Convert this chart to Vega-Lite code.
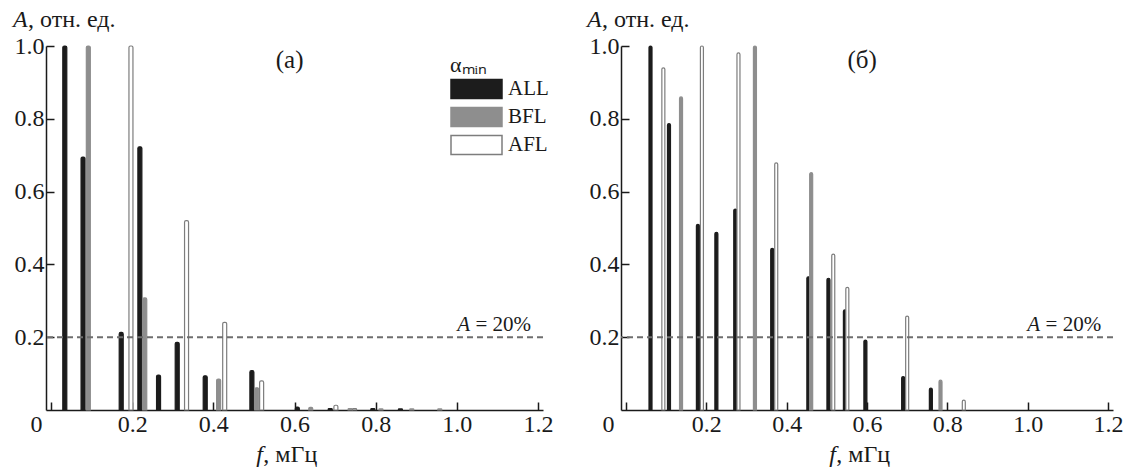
{
  "$schema": "https://vega.github.io/schema/vega-lite/v6.json",
  "background": "white",
  "padding": {"left": 12, "top": 8, "right": 0, "bottom": 0},
  "config": {
    "font": "Liberation Serif",
    "view": {"stroke": null},
    "axis": {
      "grid": false,
      "title": null,
      "domainColor": "#1a1a1a",
      "domainWidth": 1.5,
      "tickColor": "#1a1a1a",
      "tickWidth": 1.5,
      "tickSize": -8,
      "labelFont": "Liberation Serif",
      "labelFontSize": 24,
      "labelColor": "#1a1a1a"
    },
    "text": {"font": "Liberation Serif", "color": "#1a1a1a"}
  },
  "datasets": {
    "spectra": [
      {"panel": "a", "series": "ALL", "f": 0.034, "A": 1.0},
      {"panel": "a", "series": "ALL", "f": 0.079, "A": 0.695},
      {"panel": "a", "series": "ALL", "f": 0.173, "A": 0.213},
      {"panel": "a", "series": "ALL", "f": 0.219, "A": 0.723},
      {"panel": "a", "series": "ALL", "f": 0.265, "A": 0.096},
      {"panel": "a", "series": "ALL", "f": 0.311, "A": 0.186},
      {"panel": "a", "series": "ALL", "f": 0.380, "A": 0.094},
      {"panel": "a", "series": "ALL", "f": 0.495, "A": 0.108},
      {"panel": "a", "series": "ALL", "f": 0.607, "A": 0.008},
      {"panel": "a", "series": "ALL", "f": 0.688, "A": 0.004},
      {"panel": "a", "series": "ALL", "f": 0.793, "A": 0.004},
      {"panel": "a", "series": "ALL", "f": 0.861, "A": 0.003},
      {"panel": "a", "series": "BFL", "f": 0.092, "A": 1.0},
      {"panel": "a", "series": "BFL", "f": 0.231, "A": 0.308},
      {"panel": "a", "series": "BFL", "f": 0.413, "A": 0.085},
      {"panel": "a", "series": "BFL", "f": 0.507, "A": 0.061},
      {"panel": "a", "series": "BFL", "f": 0.640, "A": 0.007},
      {"panel": "a", "series": "BFL", "f": 0.737, "A": 0.004},
      {"panel": "a", "series": "BFL", "f": 0.813, "A": 0.003},
      {"panel": "a", "series": "BFL", "f": 0.889, "A": 0.003},
      {"panel": "a", "series": "BFL", "f": 0.958, "A": 0.003},
      {"panel": "a", "series": "AFL", "f": 0.197, "A": 1.0},
      {"panel": "a", "series": "AFL", "f": 0.334, "A": 0.52},
      {"panel": "a", "series": "AFL", "f": 0.428, "A": 0.241},
      {"panel": "a", "series": "AFL", "f": 0.519, "A": 0.08},
      {"panel": "a", "series": "AFL", "f": 0.702, "A": 0.013},
      {"panel": "a", "series": "AFL", "f": 0.748, "A": 0.004},
      {"panel": "b", "series": "ALL", "f": 0.061, "A": 1.0},
      {"panel": "b", "series": "ALL", "f": 0.107, "A": 0.787},
      {"panel": "b", "series": "ALL", "f": 0.179, "A": 0.51},
      {"panel": "b", "series": "ALL", "f": 0.225, "A": 0.488},
      {"panel": "b", "series": "ALL", "f": 0.272, "A": 0.552},
      {"panel": "b", "series": "ALL", "f": 0.364, "A": 0.444},
      {"panel": "b", "series": "ALL", "f": 0.454, "A": 0.366},
      {"panel": "b", "series": "ALL", "f": 0.504, "A": 0.362},
      {"panel": "b", "series": "ALL", "f": 0.545, "A": 0.275},
      {"panel": "b", "series": "ALL", "f": 0.596, "A": 0.192},
      {"panel": "b", "series": "ALL", "f": 0.690, "A": 0.092},
      {"panel": "b", "series": "ALL", "f": 0.759, "A": 0.06},
      {"panel": "b", "series": "BFL", "f": 0.137, "A": 0.86},
      {"panel": "b", "series": "BFL", "f": 0.321, "A": 1.0},
      {"panel": "b", "series": "BFL", "f": 0.461, "A": 0.652},
      {"panel": "b", "series": "BFL", "f": 0.783, "A": 0.082},
      {"panel": "b", "series": "AFL", "f": 0.093, "A": 0.94},
      {"panel": "b", "series": "AFL", "f": 0.189, "A": 1.0},
      {"panel": "b", "series": "AFL", "f": 0.280, "A": 0.981},
      {"panel": "b", "series": "AFL", "f": 0.374, "A": 0.679},
      {"panel": "b", "series": "AFL", "f": 0.516, "A": 0.428},
      {"panel": "b", "series": "AFL", "f": 0.551, "A": 0.337},
      {"panel": "b", "series": "AFL", "f": 0.700, "A": 0.258},
      {"panel": "b", "series": "AFL", "f": 0.841, "A": 0.027}
    ]
  },
  "spacing": 32,
  "resolve": {
    "scale": {"fill": "independent", "stroke": "independent"},
    "legend": {"fill": "independent", "stroke": "independent"}
  },
  "hconcat": [
    {
      "width": 497,
      "height": 364,
      "layer": [
        {
          "data": {"name": "spectra"},
          "transform": [{"filter": "datum.panel === 'a'"}],
          "mark": {"type": "bar", "size": 4, "strokeWidth": 1.2, "cornerRadiusTopLeft": 1.5, "cornerRadiusTopRight": 1.5},
          "encoding": {
            "x": {
              "field": "f", "type": "quantitative",
              "scale": {"domain": [0, 1.2], "nice": false},
              "axis": {
                "values": [0, 0.2, 0.4, 0.6, 0.8, 1.0, 1.2],
                "labelExpr": "datum.value === 0 ? '0' : format(datum.value, '.1f')",
                "labelAlign": {"condition": {"test": "datum.value === 0", "value": "right"}, "value": "center"},
                "labelOffset": {"condition": {"test": "datum.value === 0", "value": -9}, "value": 0},
                "labelPadding": 10
              }
            },
            "y": {
              "field": "A", "type": "quantitative", "stack": null,
              "scale": {"domain": [0, 1], "nice": false},
              "axis": {"values": [0.2, 0.4, 0.6, 0.8, 1.0], "format": ".1f", "labelPadding": 10}
            },
            "fill": {
              "field": "series", "type": "nominal",
              "scale": {"domain": ["ALL", "BFL", "AFL"], "range": ["#1c1c1c", "#8e8e8e", "#ffffff"]},
              "legend": {
                "orient": "none",
                "legendX": 404,
                "legendY": 9,
                "title": "αₘᵢₙ",
                "titleFont": "Liberation Serif",
                "titleFontSize": 22,
                "titleFontWeight": "normal",
                "titleColor": "#1a1a1a",
                "titlePadding": 1,
                "symbolType": "M-1,-0.95H4.1V0.95H-1Z",
                "symbolSize": 400,
                "symbolStrokeWidth": 1.5,
                "labelFont": "Liberation Serif",
                "labelFontSize": 21,
                "labelColor": "#1a1a1a",
                "labelOffset": 36,
                "rowPadding": 2
              }
            },
            "stroke": {
              "field": "series", "type": "nominal",
              "scale": {"domain": ["ALL", "BFL", "AFL"], "range": ["#1c1c1c", "#8e8e8e", "#7d7d7d"]}
            }
          }
        },
        {
          "data": {"values": [{}]},
          "mark": {"type": "rule", "strokeDash": [6, 4], "strokeWidth": 2, "color": "#6e6e6e"},
          "encoding": {"y": {"datum": 0.2}}
        },
        {
          "data": {"values": [{}]},
          "mark": {"type": "text", "align": "right", "baseline": "alphabetic", "fontSize": 21},
          "encoding": {"x": {"datum": 1.183}, "y": {"datum": 0.218}, "text": {"value": "= 20%"}}
        },
        {
          "data": {"values": [{}]},
          "mark": {"type": "text", "align": "right", "baseline": "alphabetic", "fontSize": 21, "fontStyle": "italic", "dx": -61},
          "encoding": {"x": {"datum": 1.183}, "y": {"datum": 0.218}, "text": {"value": "A"}}
        },
        {
          "data": {"values": [{}]},
          "mark": {"type": "text", "align": "center", "baseline": "middle", "fontSize": 25},
          "encoding": {"x": {"datum": 0.588}, "y": {"datum": 0.961}, "text": {"value": "(a)"}}
        },
        {
          "data": {"values": [{}]},
          "mark": {"type": "text", "align": "left", "baseline": "alphabetic", "fontSize": 24, "fontStyle": "italic", "dx": -38, "dy": -19},
          "encoding": {"x": {"datum": 0}, "y": {"datum": 1}, "text": {"value": "A"}}
        },
        {
          "data": {"values": [{}]},
          "mark": {"type": "text", "align": "left", "baseline": "alphabetic", "fontSize": 24, "dx": -23, "dy": -19},
          "encoding": {"x": {"datum": 0}, "y": {"datum": 1}, "text": {"value": ", отн. ед."}}
        },
        {
          "data": {"values": [{}]},
          "mark": {"type": "text", "align": "left", "baseline": "alphabetic", "fontSize": 24, "fontStyle": "italic", "dy": 52},
          "encoding": {"x": {"datum": 0.506}, "y": {"datum": 0}, "text": {"value": "f"}}
        },
        {
          "data": {"values": [{}]},
          "mark": {"type": "text", "align": "left", "baseline": "alphabetic", "fontSize": 24, "dx": 7, "dy": 52},
          "encoding": {"x": {"datum": 0.506}, "y": {"datum": 0}, "text": {"value": ", мГц"}}
        }
      ]
    },
    {
      "width": 492,
      "height": 364,
      "layer": [
        {
          "data": {"name": "spectra"},
          "transform": [{"filter": "datum.panel === 'b'"}],
          "mark": {"type": "bar", "size": 3, "strokeWidth": 1.2, "cornerRadiusTopLeft": 1.5, "cornerRadiusTopRight": 1.5},
          "encoding": {
            "x": {
              "field": "f", "type": "quantitative",
              "scale": {"domain": [0, 1.2], "nice": false},
              "axis": {
                "values": [0, 0.2, 0.4, 0.6, 0.8, 1.0, 1.2],
                "labelExpr": "datum.value === 0 ? '0' : format(datum.value, '.1f')",
                "labelAlign": {"condition": {"test": "datum.value === 0", "value": "right"}, "value": "center"},
                "labelOffset": {"condition": {"test": "datum.value === 0", "value": -12}, "value": 0},
                "labelPadding": 10
              }
            },
            "y": {
              "field": "A", "type": "quantitative", "stack": null,
              "scale": {"domain": [0, 1], "nice": false},
              "axis": {"values": [0.2, 0.4, 0.6, 0.8, 1.0], "format": ".1f", "labelPadding": 10}
            },
            "fill": {
              "field": "series", "type": "nominal",
              "scale": {"domain": ["ALL", "BFL", "AFL"], "range": ["#1c1c1c", "#8e8e8e", "#ffffff"]},
              "legend": null
            },
            "stroke": {
              "field": "series", "type": "nominal",
              "scale": {"domain": ["ALL", "BFL", "AFL"], "range": ["#1c1c1c", "#8e8e8e", "#7d7d7d"]},
              "legend": null
            }
          }
        },
        {
          "data": {"values": [{}]},
          "mark": {"type": "rule", "strokeDash": [6, 4], "strokeWidth": 2, "color": "#6e6e6e"},
          "encoding": {"y": {"datum": 0.2}}
        },
        {
          "data": {"values": [{}]},
          "mark": {"type": "text", "align": "right", "baseline": "alphabetic", "fontSize": 21},
          "encoding": {"x": {"datum": 1.183}, "y": {"datum": 0.218}, "text": {"value": "= 20%"}}
        },
        {
          "data": {"values": [{}]},
          "mark": {"type": "text", "align": "right", "baseline": "alphabetic", "fontSize": 21, "fontStyle": "italic", "dx": -61},
          "encoding": {"x": {"datum": 1.183}, "y": {"datum": 0.218}, "text": {"value": "A"}}
        },
        {
          "data": {"values": [{}]},
          "mark": {"type": "text", "align": "center", "baseline": "middle", "fontSize": 25},
          "encoding": {"x": {"datum": 0.588}, "y": {"datum": 0.961}, "text": {"value": "(б)"}}
        },
        {
          "data": {"values": [{}]},
          "mark": {"type": "text", "align": "left", "baseline": "alphabetic", "fontSize": 24, "fontStyle": "italic", "dx": -39, "dy": -19},
          "encoding": {"x": {"datum": 0}, "y": {"datum": 1}, "text": {"value": "A"}}
        },
        {
          "data": {"values": [{}]},
          "mark": {"type": "text", "align": "left", "baseline": "alphabetic", "fontSize": 24, "dx": -24, "dy": -19},
          "encoding": {"x": {"datum": 0}, "y": {"datum": 1}, "text": {"value": ", отн. ед."}}
        },
        {
          "data": {"values": [{}]},
          "mark": {"type": "text", "align": "left", "baseline": "alphabetic", "fontSize": 24, "fontStyle": "italic", "dy": 52},
          "encoding": {"x": {"datum": 0.506}, "y": {"datum": 0}, "text": {"value": "f"}}
        },
        {
          "data": {"values": [{}]},
          "mark": {"type": "text", "align": "left", "baseline": "alphabetic", "fontSize": 24, "dx": 7, "dy": 52},
          "encoding": {"x": {"datum": 0.506}, "y": {"datum": 0}, "text": {"value": ", мГц"}}
        }
      ]
    }
  ]
}
